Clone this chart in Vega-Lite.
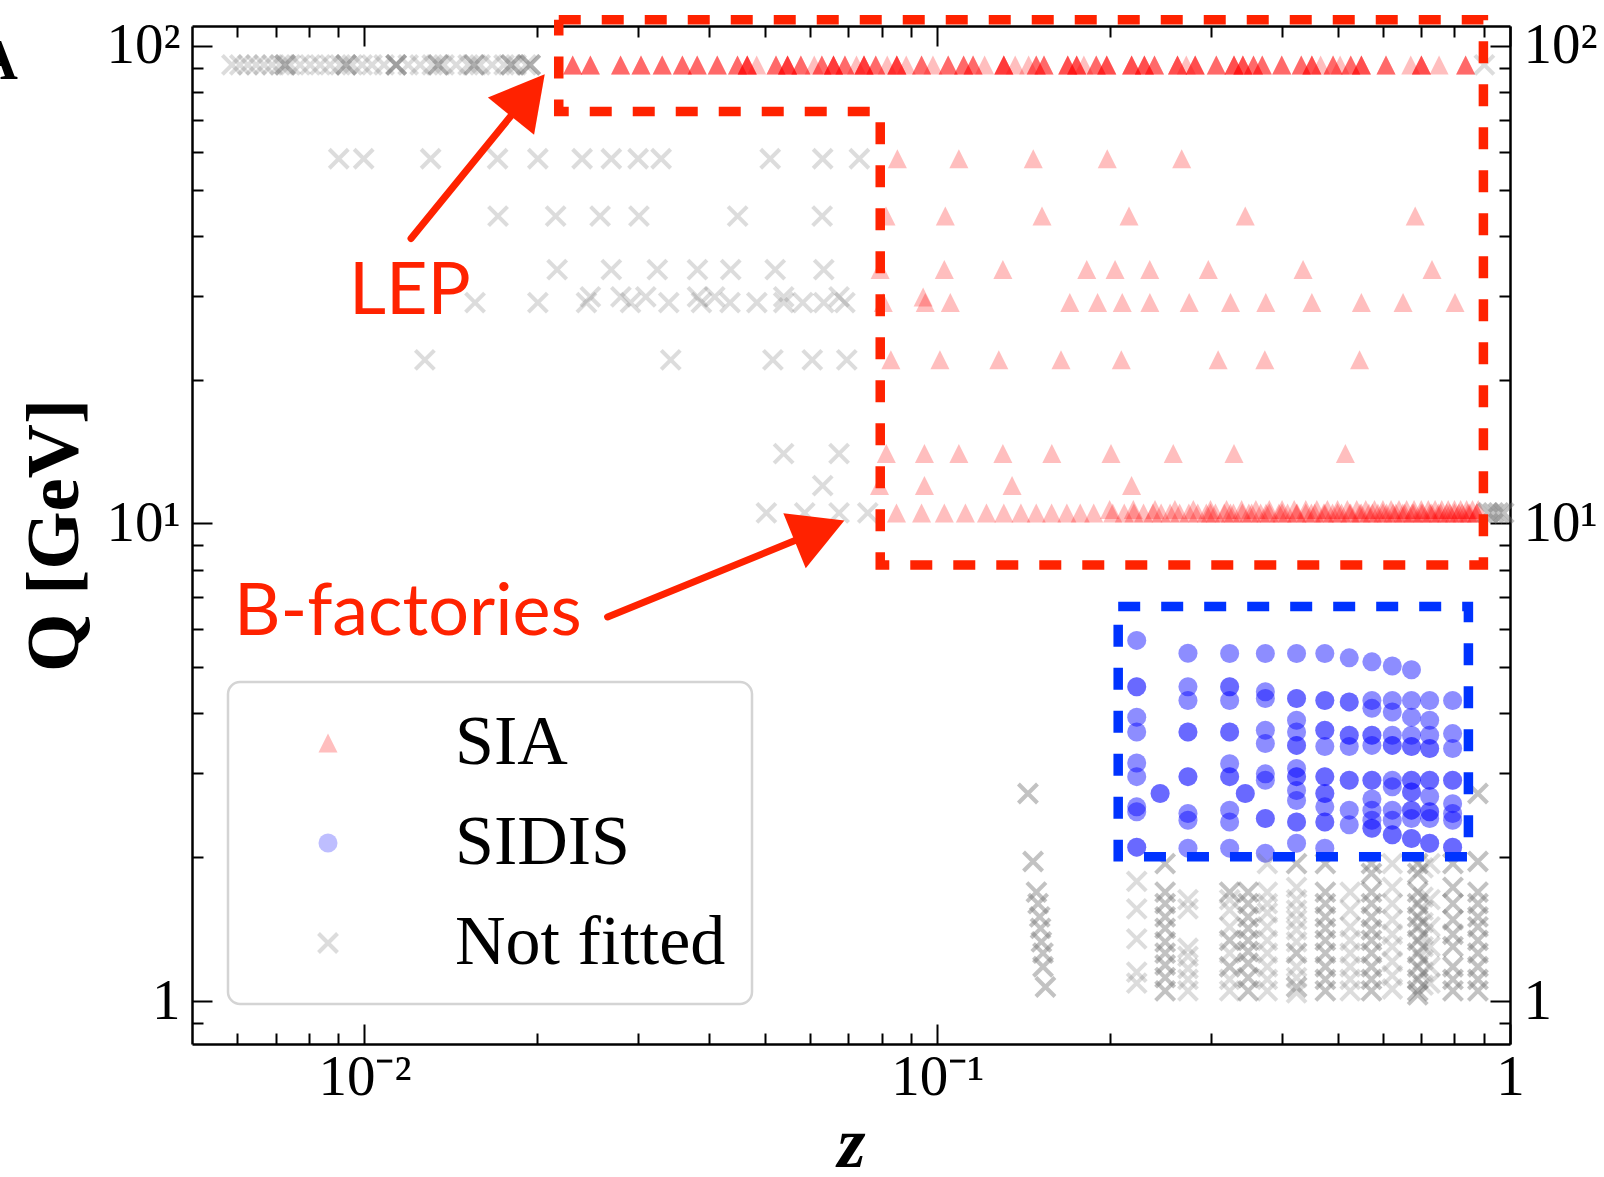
{
"$schema":"https://vega.github.io/schema/vega-lite/v6.json",
"width":1318,"height":1018,
"autosize":{"type":"none"},
"padding":{"left":192,"top":26,"right":94,"bottom":133},
"background":"white",
"config":{"view":{"stroke":null},"axis":{"grid":false,"domainColor":"black","domainWidth":2.5,"tickColor":"black","tickWidth":2,"labelFont":"Liberation Serif","labelFontSize":57,"labelColor":"black","labelFlush":false,"labelOverlap":false,"titleColor":"black"},"legend":{"strokeWidth":2.5}},
"resolve":{"axis":{"x":"independent","y":"independent"}},
"layer":[
{"data":{"values":[
{"set":"SIA","z":0.0231,"Q":91.2},{"set":"SIA","z":0.0231,"Q":91.2},{"set":"SIA","z":0.0231,"Q":91.2},
{"set":"SIA","z":0.0248,"Q":91.2},{"set":"SIA","z":0.0248,"Q":91.2},{"set":"SIA","z":0.0248,"Q":91.2},
{"set":"SIA","z":0.028,"Q":91.2},{"set":"SIA","z":0.028,"Q":91.2},{"set":"SIA","z":0.028,"Q":91.2},
{"set":"SIA","z":0.0304,"Q":91.2},{"set":"SIA","z":0.0304,"Q":91.2},{"set":"SIA","z":0.0304,"Q":91.2},
{"set":"SIA","z":0.0331,"Q":91.2},{"set":"SIA","z":0.0331,"Q":91.2},{"set":"SIA","z":0.0331,"Q":91.2},
{"set":"SIA","z":0.0359,"Q":91.2},{"set":"SIA","z":0.0359,"Q":91.2},{"set":"SIA","z":0.0359,"Q":91.2},
{"set":"SIA","z":0.0381,"Q":91.2},{"set":"SIA","z":0.0381,"Q":91.2},{"set":"SIA","z":0.0381,"Q":91.2},
{"set":"SIA","z":0.0413,"Q":91.2},{"set":"SIA","z":0.0413,"Q":91.2},{"set":"SIA","z":0.0413,"Q":91.2},
{"set":"SIA","z":0.0448,"Q":91.2},{"set":"SIA","z":0.0448,"Q":91.2},{"set":"SIA","z":0.0448,"Q":91.2},
{"set":"SIA","z":0.0466,"Q":91.2},{"set":"SIA","z":0.0466,"Q":91.2},{"set":"SIA","z":0.0466,"Q":91.2},{"set":"SIA","z":0.0466,"Q":91.2},{"set":"SIA","z":0.0466,"Q":91.2},
{"set":"SIA","z":0.0484,"Q":91.2},
{"set":"SIA","z":0.0523,"Q":91.2},{"set":"SIA","z":0.0523,"Q":91.2},{"set":"SIA","z":0.0523,"Q":91.2},
{"set":"SIA","z":0.0548,"Q":91.2},{"set":"SIA","z":0.0548,"Q":91.2},{"set":"SIA","z":0.0548,"Q":91.2},{"set":"SIA","z":0.0548,"Q":91.2},{"set":"SIA","z":0.0548,"Q":91.2},
{"set":"SIA","z":0.0578,"Q":91.2},{"set":"SIA","z":0.0578,"Q":91.2},{"set":"SIA","z":0.0578,"Q":91.2},
{"set":"SIA","z":0.061,"Q":91.2},
{"set":"SIA","z":0.0629,"Q":91.2},{"set":"SIA","z":0.0629,"Q":91.2},{"set":"SIA","z":0.0629,"Q":91.2},
{"set":"SIA","z":0.0659,"Q":91.2},{"set":"SIA","z":0.0659,"Q":91.2},{"set":"SIA","z":0.0659,"Q":91.2},{"set":"SIA","z":0.0659,"Q":91.2},{"set":"SIA","z":0.0659,"Q":91.2},
{"set":"SIA","z":0.069,"Q":91.2},{"set":"SIA","z":0.069,"Q":91.2},{"set":"SIA","z":0.069,"Q":91.2},
{"set":"SIA","z":0.0723,"Q":91.2},
{"set":"SIA","z":0.0745,"Q":91.2},{"set":"SIA","z":0.0745,"Q":91.2},{"set":"SIA","z":0.0745,"Q":91.2},{"set":"SIA","z":0.0745,"Q":91.2},{"set":"SIA","z":0.0745,"Q":91.2},
{"set":"SIA","z":0.0781,"Q":91.2},{"set":"SIA","z":0.0781,"Q":91.2},{"set":"SIA","z":0.0781,"Q":91.2},
{"set":"SIA","z":0.0818,"Q":91.2},
{"set":"SIA","z":0.085,"Q":91.2},{"set":"SIA","z":0.085,"Q":91.2},{"set":"SIA","z":0.085,"Q":91.2},{"set":"SIA","z":0.085,"Q":91.2},{"set":"SIA","z":0.085,"Q":91.2},
{"set":"SIA","z":0.0883,"Q":91.2},
{"set":"SIA","z":0.0939,"Q":91.2},{"set":"SIA","z":0.0939,"Q":91.2},{"set":"SIA","z":0.0939,"Q":91.2},
{"set":"SIA","z":0.0983,"Q":91.2},
{"set":"SIA","z":0.1045,"Q":91.2},{"set":"SIA","z":0.1045,"Q":91.2},{"set":"SIA","z":0.1045,"Q":91.2},
{"set":"SIA","z":0.1112,"Q":91.2},{"set":"SIA","z":0.1112,"Q":91.2},{"set":"SIA","z":0.1112,"Q":91.2},
{"set":"SIA","z":0.1155,"Q":91.2},{"set":"SIA","z":0.1155,"Q":91.2},{"set":"SIA","z":0.1155,"Q":91.2},
{"set":"SIA","z":0.121,"Q":91.2},
{"set":"SIA","z":0.1307,"Q":91.2},{"set":"SIA","z":0.1307,"Q":91.2},{"set":"SIA","z":0.1307,"Q":91.2},{"set":"SIA","z":0.1307,"Q":91.2},{"set":"SIA","z":0.1307,"Q":91.2},
{"set":"SIA","z":0.1368,"Q":91.2},
{"set":"SIA","z":0.1444,"Q":91.2},
{"set":"SIA","z":0.1489,"Q":91.2},{"set":"SIA","z":0.1489,"Q":91.2},{"set":"SIA","z":0.1489,"Q":91.2},
{"set":"SIA","z":0.1536,"Q":91.2},{"set":"SIA","z":0.1536,"Q":91.2},{"set":"SIA","z":0.1536,"Q":91.2},
{"set":"SIA","z":0.169,"Q":91.2},{"set":"SIA","z":0.169,"Q":91.2},{"set":"SIA","z":0.169,"Q":91.2},{"set":"SIA","z":0.169,"Q":91.2},
{"set":"SIA","z":0.1752,"Q":91.2},{"set":"SIA","z":0.1752,"Q":91.2},{"set":"SIA","z":0.1752,"Q":91.2},{"set":"SIA","z":0.1752,"Q":91.2},
{"set":"SIA","z":0.1803,"Q":91.2},
{"set":"SIA","z":0.1895,"Q":91.2},{"set":"SIA","z":0.1895,"Q":91.2},{"set":"SIA","z":0.1895,"Q":91.2},
{"set":"SIA","z":0.1977,"Q":91.2},{"set":"SIA","z":0.1977,"Q":91.2},{"set":"SIA","z":0.1977,"Q":91.2},{"set":"SIA","z":0.1977,"Q":91.2},
{"set":"SIA","z":0.2185,"Q":91.2},{"set":"SIA","z":0.2185,"Q":91.2},{"set":"SIA","z":0.2185,"Q":91.2},{"set":"SIA","z":0.2185,"Q":91.2},
{"set":"SIA","z":0.23,"Q":91.2},{"set":"SIA","z":0.23,"Q":91.2},{"set":"SIA","z":0.23,"Q":91.2},{"set":"SIA","z":0.23,"Q":91.2},
{"set":"SIA","z":0.2395,"Q":91.2},{"set":"SIA","z":0.2395,"Q":91.2},{"set":"SIA","z":0.2395,"Q":91.2},
{"set":"SIA","z":0.2627,"Q":91.2},{"set":"SIA","z":0.2627,"Q":91.2},{"set":"SIA","z":0.2627,"Q":91.2},{"set":"SIA","z":0.2627,"Q":91.2},
{"set":"SIA","z":0.2722,"Q":91.2},
{"set":"SIA","z":0.2821,"Q":91.2},{"set":"SIA","z":0.2821,"Q":91.2},{"set":"SIA","z":0.2821,"Q":91.2},{"set":"SIA","z":0.2821,"Q":91.2},
{"set":"SIA","z":0.3071,"Q":91.2},{"set":"SIA","z":0.3071,"Q":91.2},{"set":"SIA","z":0.3071,"Q":91.2},
{"set":"SIA","z":0.3297,"Q":91.2},{"set":"SIA","z":0.3297,"Q":91.2},{"set":"SIA","z":0.3297,"Q":91.2},{"set":"SIA","z":0.3297,"Q":91.2},
{"set":"SIA","z":0.3417,"Q":91.2},{"set":"SIA","z":0.3417,"Q":91.2},{"set":"SIA","z":0.3417,"Q":91.2},{"set":"SIA","z":0.3417,"Q":91.2},
{"set":"SIA","z":0.3566,"Q":91.2},{"set":"SIA","z":0.3566,"Q":91.2},{"set":"SIA","z":0.3566,"Q":91.2},
{"set":"SIA","z":0.3694,"Q":91.2},{"set":"SIA","z":0.3694,"Q":91.2},{"set":"SIA","z":0.3694,"Q":91.2},
{"set":"SIA","z":0.3995,"Q":91.2},{"set":"SIA","z":0.3995,"Q":91.2},{"set":"SIA","z":0.3995,"Q":91.2},
{"set":"SIA","z":0.4321,"Q":91.2},{"set":"SIA","z":0.4321,"Q":91.2},{"set":"SIA","z":0.4321,"Q":91.2},
{"set":"SIA","z":0.4509,"Q":91.2},{"set":"SIA","z":0.4509,"Q":91.2},{"set":"SIA","z":0.4509,"Q":91.2},{"set":"SIA","z":0.4509,"Q":91.2},
{"set":"SIA","z":0.4671,"Q":91.2},
{"set":"SIA","z":0.491,"Q":91.2},{"set":"SIA","z":0.491,"Q":91.2},{"set":"SIA","z":0.491,"Q":91.2},
{"set":"SIA","z":0.5052,"Q":91.2},
{"set":"SIA","z":0.5272,"Q":91.2},{"set":"SIA","z":0.5272,"Q":91.2},{"set":"SIA","z":0.5272,"Q":91.2},
{"set":"SIA","z":0.5502,"Q":91.2},{"set":"SIA","z":0.5502,"Q":91.2},{"set":"SIA","z":0.5502,"Q":91.2},{"set":"SIA","z":0.5502,"Q":91.2},
{"set":"SIA","z":0.6075,"Q":91.2},{"set":"SIA","z":0.6075,"Q":91.2},{"set":"SIA","z":0.6075,"Q":91.2},
{"set":"SIA","z":0.671,"Q":91.2},
{"set":"SIA","z":0.7002,"Q":91.2},{"set":"SIA","z":0.7002,"Q":91.2},{"set":"SIA","z":0.7002,"Q":91.2},{"set":"SIA","z":0.7002,"Q":91.2},
{"set":"SIA","z":0.7519,"Q":91.2},
{"set":"SIA","z":0.8366,"Q":91.2},{"set":"SIA","z":0.8366,"Q":91.2},{"set":"SIA","z":0.8366,"Q":91.2},
{"set":"SIA","z":0.0852,"Q":58},{"set":"SIA","z":0.1091,"Q":58},{"set":"SIA","z":0.1471,"Q":58},{"set":"SIA","z":0.1981,"Q":58},{"set":"SIA","z":0.2672,"Q":58},
{"set":"SIA","z":0.0814,"Q":44},{"set":"SIA","z":0.1033,"Q":44},{"set":"SIA","z":0.1524,"Q":44},{"set":"SIA","z":0.2162,"Q":44},{"set":"SIA","z":0.345,"Q":44},{"set":"SIA","z":0.6831,"Q":44},
{"set":"SIA","z":0.0795,"Q":34},{"set":"SIA","z":0.1029,"Q":34},{"set":"SIA","z":0.1302,"Q":34},{"set":"SIA","z":0.1824,"Q":34},{"set":"SIA","z":0.2044,"Q":34},{"set":"SIA","z":0.235,"Q":34},{"set":"SIA","z":0.2974,"Q":34},{"set":"SIA","z":0.4352,"Q":34},{"set":"SIA","z":0.7309,"Q":34},
{"set":"SIA","z":0.0945,"Q":29.8},
{"set":"SIA","z":0.0805,"Q":29},{"set":"SIA","z":0.0953,"Q":29},{"set":"SIA","z":0.1054,"Q":29},{"set":"SIA","z":0.1704,"Q":29},{"set":"SIA","z":0.1905,"Q":29},{"set":"SIA","z":0.2104,"Q":29},{"set":"SIA","z":0.2351,"Q":29},{"set":"SIA","z":0.2754,"Q":29},{"set":"SIA","z":0.3251,"Q":29},{"set":"SIA","z":0.3747,"Q":29},{"set":"SIA","z":0.4509,"Q":29},{"set":"SIA","z":0.5502,"Q":29},{"set":"SIA","z":0.6506,"Q":29},{"set":"SIA","z":0.8017,"Q":29},
{"set":"SIA","z":0.083,"Q":22},{"set":"SIA","z":0.1011,"Q":22},{"set":"SIA","z":0.1281,"Q":22},{"set":"SIA","z":0.1645,"Q":22},{"set":"SIA","z":0.2096,"Q":22},{"set":"SIA","z":0.3093,"Q":22},{"set":"SIA","z":0.3732,"Q":22},{"set":"SIA","z":0.5462,"Q":22},
{"set":"SIA","z":0.0815,"Q":14},{"set":"SIA","z":0.095,"Q":14},{"set":"SIA","z":0.1091,"Q":14},{"set":"SIA","z":0.1302,"Q":14},{"set":"SIA","z":0.1585,"Q":14},{"set":"SIA","z":0.2011,"Q":14},{"set":"SIA","z":0.2583,"Q":14},{"set":"SIA","z":0.3297,"Q":14},{"set":"SIA","z":0.5159,"Q":14},
{"set":"SIA","z":0.0793,"Q":12},{"set":"SIA","z":0.095,"Q":12},{"set":"SIA","z":0.1351,"Q":12},{"set":"SIA","z":0.2184,"Q":12},
{"set":"SIA","z":0.0849,"Q":10.52},{"set":"SIA","z":0.0939,"Q":10.52},{"set":"SIA","z":0.1029,"Q":10.52},{"set":"SIA","z":0.112,"Q":10.52},{"set":"SIA","z":0.1219,"Q":10.52},{"set":"SIA","z":0.1307,"Q":10.52},{"set":"SIA","z":0.14,"Q":10.52},{"set":"SIA","z":0.1489,"Q":10.52},{"set":"SIA","z":0.1584,"Q":10.52},{"set":"SIA","z":0.1684,"Q":10.52},{"set":"SIA","z":0.1777,"Q":10.52},{"set":"SIA","z":0.1876,"Q":10.52},{"set":"SIA","z":0.2025,"Q":10.52},{"set":"SIA","z":0.2121,"Q":10.52},{"set":"SIA","z":0.2205,"Q":10.52},{"set":"SIA","z":0.2292,"Q":10.52},
{"set":"SIA","z":0.238,"Q":10.52},{"set":"SIA","z":0.246,"Q":10.52},{"set":"SIA","z":0.255,"Q":10.52},{"set":"SIA","z":0.265,"Q":10.52},{"set":"SIA","z":0.275,"Q":10.52},{"set":"SIA","z":0.285,"Q":10.52},{"set":"SIA","z":0.295,"Q":10.52},{"set":"SIA","z":0.306,"Q":10.52},{"set":"SIA","z":0.317,"Q":10.52},{"set":"SIA","z":0.329,"Q":10.52},{"set":"SIA","z":0.341,"Q":10.52},{"set":"SIA","z":0.354,"Q":10.52},{"set":"SIA","z":0.367,"Q":10.52},{"set":"SIA","z":0.38,"Q":10.52},{"set":"SIA","z":0.395,"Q":10.52},{"set":"SIA","z":0.409,"Q":10.52},{"set":"SIA","z":0.424,"Q":10.52},{"set":"SIA","z":0.44,"Q":10.52},{"set":"SIA","z":0.456,"Q":10.52},{"set":"SIA","z":0.473,"Q":10.52},{"set":"SIA","z":0.49,"Q":10.52},{"set":"SIA","z":0.508,"Q":10.52},{"set":"SIA","z":0.527,"Q":10.52},{"set":"SIA","z":0.547,"Q":10.52},{"set":"SIA","z":0.567,"Q":10.52},{"set":"SIA","z":0.588,"Q":10.52},{"set":"SIA","z":0.609,"Q":10.52},{"set":"SIA","z":0.632,"Q":10.52},{"set":"SIA","z":0.655,"Q":10.52},{"set":"SIA","z":0.679,"Q":10.52},{"set":"SIA","z":0.704,"Q":10.52},{"set":"SIA","z":0.73,"Q":10.52},{"set":"SIA","z":0.757,"Q":10.52},{"set":"SIA","z":0.785,"Q":10.52},{"set":"SIA","z":0.814,"Q":10.52},{"set":"SIA","z":0.844,"Q":10.52},{"set":"SIA","z":0.875,"Q":10.52},
{"set":"SIA","z":0.2,"Q":10.7},{"set":"SIA","z":0.22,"Q":10.7},{"set":"SIA","z":0.24,"Q":10.7},{"set":"SIA","z":0.26,"Q":10.7},{"set":"SIA","z":0.28,"Q":10.7},{"set":"SIA","z":0.3,"Q":10.7},{"set":"SIA","z":0.32,"Q":10.7},{"set":"SIA","z":0.34,"Q":10.7},{"set":"SIA","z":0.36,"Q":10.7},{"set":"SIA","z":0.38,"Q":10.7},{"set":"SIA","z":0.4,"Q":10.7},{"set":"SIA","z":0.42,"Q":10.7},{"set":"SIA","z":0.44,"Q":10.7},{"set":"SIA","z":0.46,"Q":10.7},{"set":"SIA","z":0.48,"Q":10.7},{"set":"SIA","z":0.5,"Q":10.7},{"set":"SIA","z":0.52,"Q":10.7},{"set":"SIA","z":0.54,"Q":10.7},{"set":"SIA","z":0.56,"Q":10.7},{"set":"SIA","z":0.58,"Q":10.7},{"set":"SIA","z":0.6,"Q":10.7},{"set":"SIA","z":0.62,"Q":10.7},{"set":"SIA","z":0.64,"Q":10.7},{"set":"SIA","z":0.66,"Q":10.7},{"set":"SIA","z":0.68,"Q":10.7},{"set":"SIA","z":0.7,"Q":10.7},{"set":"SIA","z":0.72,"Q":10.7},{"set":"SIA","z":0.74,"Q":10.7},{"set":"SIA","z":0.76,"Q":10.7},{"set":"SIA","z":0.78,"Q":10.7},{"set":"SIA","z":0.8,"Q":10.7},{"set":"SIA","z":0.82,"Q":10.7},{"set":"SIA","z":0.84,"Q":10.7},{"set":"SIA","z":0.86,"Q":10.7},{"set":"SIA","z":0.88,"Q":10.7},
{"set":"SIA","z":0.3,"Q":10.52},{"set":"SIA","z":0.325,"Q":10.52},{"set":"SIA","z":0.35,"Q":10.52},{"set":"SIA","z":0.375,"Q":10.52},{"set":"SIA","z":0.4,"Q":10.52},{"set":"SIA","z":0.425,"Q":10.52},{"set":"SIA","z":0.45,"Q":10.52},{"set":"SIA","z":0.475,"Q":10.52},{"set":"SIA","z":0.5,"Q":10.52},{"set":"SIA","z":0.525,"Q":10.52},{"set":"SIA","z":0.55,"Q":10.52},{"set":"SIA","z":0.575,"Q":10.52},{"set":"SIA","z":0.6,"Q":10.52},{"set":"SIA","z":0.625,"Q":10.52},{"set":"SIA","z":0.65,"Q":10.52},{"set":"SIA","z":0.675,"Q":10.52},{"set":"SIA","z":0.7,"Q":10.52},{"set":"SIA","z":0.725,"Q":10.52},{"set":"SIA","z":0.75,"Q":10.52},{"set":"SIA","z":0.775,"Q":10.52},{"set":"SIA","z":0.8,"Q":10.52},{"set":"SIA","z":0.825,"Q":10.52},{"set":"SIA","z":0.85,"Q":10.52},{"set":"SIA","z":0.875,"Q":10.52},
{"set":"SIDIS","z":0.223,"Q":5.69},{"set":"SIDIS","z":0.223,"Q":5.69},
{"set":"SIDIS","z":0.223,"Q":4.55},{"set":"SIDIS","z":0.223,"Q":4.55},{"set":"SIDIS","z":0.223,"Q":4.55},
{"set":"SIDIS","z":0.223,"Q":3.93},{"set":"SIDIS","z":0.223,"Q":3.93},
{"set":"SIDIS","z":0.223,"Q":3.66},{"set":"SIDIS","z":0.223,"Q":3.66},
{"set":"SIDIS","z":0.223,"Q":3.15},{"set":"SIDIS","z":0.223,"Q":3.15},
{"set":"SIDIS","z":0.223,"Q":2.95},{"set":"SIDIS","z":0.223,"Q":2.95},
{"set":"SIDIS","z":0.223,"Q":2.55},{"set":"SIDIS","z":0.223,"Q":2.55},
{"set":"SIDIS","z":0.223,"Q":2.49},{"set":"SIDIS","z":0.223,"Q":2.49},
{"set":"SIDIS","z":0.223,"Q":2.1},{"set":"SIDIS","z":0.223,"Q":2.1},{"set":"SIDIS","z":0.223,"Q":2.1},
{"set":"SIDIS","z":0.245,"Q":2.72},{"set":"SIDIS","z":0.245,"Q":2.72},{"set":"SIDIS","z":0.245,"Q":2.72},
{"set":"SIDIS","z":0.274,"Q":5.35},{"set":"SIDIS","z":0.274,"Q":5.35},
{"set":"SIDIS","z":0.274,"Q":4.55},{"set":"SIDIS","z":0.274,"Q":4.55},
{"set":"SIDIS","z":0.274,"Q":4.26},{"set":"SIDIS","z":0.274,"Q":4.26},
{"set":"SIDIS","z":0.274,"Q":3.66},{"set":"SIDIS","z":0.274,"Q":3.66},{"set":"SIDIS","z":0.274,"Q":3.66},
{"set":"SIDIS","z":0.274,"Q":2.95},{"set":"SIDIS","z":0.274,"Q":2.95},{"set":"SIDIS","z":0.274,"Q":2.95},
{"set":"SIDIS","z":0.274,"Q":2.47},{"set":"SIDIS","z":0.274,"Q":2.47},
{"set":"SIDIS","z":0.274,"Q":2.39},{"set":"SIDIS","z":0.274,"Q":2.39},
{"set":"SIDIS","z":0.274,"Q":2.09},{"set":"SIDIS","z":0.274,"Q":2.09},
{"set":"SIDIS","z":0.324,"Q":5.34},{"set":"SIDIS","z":0.324,"Q":5.34},
{"set":"SIDIS","z":0.324,"Q":4.55},{"set":"SIDIS","z":0.324,"Q":4.55},{"set":"SIDIS","z":0.324,"Q":4.55},
{"set":"SIDIS","z":0.324,"Q":4.26},{"set":"SIDIS","z":0.324,"Q":4.26},
{"set":"SIDIS","z":0.324,"Q":3.66},{"set":"SIDIS","z":0.324,"Q":3.66},{"set":"SIDIS","z":0.324,"Q":3.66},
{"set":"SIDIS","z":0.324,"Q":3.14},{"set":"SIDIS","z":0.324,"Q":3.14},
{"set":"SIDIS","z":0.324,"Q":2.95},{"set":"SIDIS","z":0.324,"Q":2.95},{"set":"SIDIS","z":0.324,"Q":2.95},
{"set":"SIDIS","z":0.324,"Q":2.51},{"set":"SIDIS","z":0.324,"Q":2.51},
{"set":"SIDIS","z":0.324,"Q":2.37},{"set":"SIDIS","z":0.324,"Q":2.37},
{"set":"SIDIS","z":0.324,"Q":2.09},{"set":"SIDIS","z":0.324,"Q":2.09},
{"set":"SIDIS","z":0.345,"Q":2.72},{"set":"SIDIS","z":0.345,"Q":2.72},{"set":"SIDIS","z":0.345,"Q":2.72},
{"set":"SIDIS","z":0.374,"Q":5.34},{"set":"SIDIS","z":0.374,"Q":5.34},
{"set":"SIDIS","z":0.374,"Q":4.44},{"set":"SIDIS","z":0.374,"Q":4.44},
{"set":"SIDIS","z":0.374,"Q":4.3},{"set":"SIDIS","z":0.374,"Q":4.3},
{"set":"SIDIS","z":0.374,"Q":3.69},{"set":"SIDIS","z":0.374,"Q":3.69},
{"set":"SIDIS","z":0.374,"Q":3.46},{"set":"SIDIS","z":0.374,"Q":3.46},
{"set":"SIDIS","z":0.374,"Q":2.99},{"set":"SIDIS","z":0.374,"Q":2.99},
{"set":"SIDIS","z":0.374,"Q":2.9},{"set":"SIDIS","z":0.374,"Q":2.9},
{"set":"SIDIS","z":0.374,"Q":2.41},{"set":"SIDIS","z":0.374,"Q":2.41},{"set":"SIDIS","z":0.374,"Q":2.41},
{"set":"SIDIS","z":0.374,"Q":2.04},{"set":"SIDIS","z":0.374,"Q":2.04},
{"set":"SIDIS","z":0.424,"Q":5.34},{"set":"SIDIS","z":0.424,"Q":5.34},
{"set":"SIDIS","z":0.424,"Q":4.3},{"set":"SIDIS","z":0.424,"Q":4.3},{"set":"SIDIS","z":0.424,"Q":4.3},
{"set":"SIDIS","z":0.424,"Q":3.87},{"set":"SIDIS","z":0.424,"Q":3.87},
{"set":"SIDIS","z":0.424,"Q":3.66},{"set":"SIDIS","z":0.424,"Q":3.66},
{"set":"SIDIS","z":0.424,"Q":3.43},{"set":"SIDIS","z":0.424,"Q":3.43},{"set":"SIDIS","z":0.424,"Q":3.43},
{"set":"SIDIS","z":0.424,"Q":3.07},{"set":"SIDIS","z":0.424,"Q":3.07},
{"set":"SIDIS","z":0.424,"Q":2.95},{"set":"SIDIS","z":0.424,"Q":2.95},{"set":"SIDIS","z":0.424,"Q":2.95},
{"set":"SIDIS","z":0.424,"Q":2.76},{"set":"SIDIS","z":0.424,"Q":2.76},
{"set":"SIDIS","z":0.424,"Q":2.63},{"set":"SIDIS","z":0.424,"Q":2.63},
{"set":"SIDIS","z":0.424,"Q":2.37},{"set":"SIDIS","z":0.424,"Q":2.37},{"set":"SIDIS","z":0.424,"Q":2.37},
{"set":"SIDIS","z":0.424,"Q":2.14},{"set":"SIDIS","z":0.424,"Q":2.14},
{"set":"SIDIS","z":0.475,"Q":5.34},{"set":"SIDIS","z":0.475,"Q":5.34},
{"set":"SIDIS","z":0.475,"Q":4.26},{"set":"SIDIS","z":0.475,"Q":4.26},{"set":"SIDIS","z":0.475,"Q":4.26},
{"set":"SIDIS","z":0.475,"Q":3.69},{"set":"SIDIS","z":0.475,"Q":3.69},{"set":"SIDIS","z":0.475,"Q":3.69},
{"set":"SIDIS","z":0.475,"Q":3.41},{"set":"SIDIS","z":0.475,"Q":3.41},
{"set":"SIDIS","z":0.475,"Q":2.95},{"set":"SIDIS","z":0.475,"Q":2.95},{"set":"SIDIS","z":0.475,"Q":2.95},
{"set":"SIDIS","z":0.475,"Q":2.72},{"set":"SIDIS","z":0.475,"Q":2.72},{"set":"SIDIS","z":0.475,"Q":2.72},
{"set":"SIDIS","z":0.475,"Q":2.55},{"set":"SIDIS","z":0.475,"Q":2.55},
{"set":"SIDIS","z":0.475,"Q":2.37},{"set":"SIDIS","z":0.475,"Q":2.37},{"set":"SIDIS","z":0.475,"Q":2.37},
{"set":"SIDIS","z":0.475,"Q":2.09},{"set":"SIDIS","z":0.475,"Q":2.09},
{"set":"SIDIS","z":0.524,"Q":5.23},{"set":"SIDIS","z":0.524,"Q":5.23},
{"set":"SIDIS","z":0.524,"Q":4.23},{"set":"SIDIS","z":0.524,"Q":4.23},{"set":"SIDIS","z":0.524,"Q":4.23},
{"set":"SIDIS","z":0.524,"Q":3.6},{"set":"SIDIS","z":0.524,"Q":3.6},{"set":"SIDIS","z":0.524,"Q":3.6},
{"set":"SIDIS","z":0.524,"Q":3.41},{"set":"SIDIS","z":0.524,"Q":3.41},
{"set":"SIDIS","z":0.524,"Q":2.9},{"set":"SIDIS","z":0.524,"Q":2.9},{"set":"SIDIS","z":0.524,"Q":2.9},
{"set":"SIDIS","z":0.524,"Q":2.51},{"set":"SIDIS","z":0.524,"Q":2.51},
{"set":"SIDIS","z":0.524,"Q":2.34},{"set":"SIDIS","z":0.524,"Q":2.34},
{"set":"SIDIS","z":0.574,"Q":5.13},{"set":"SIDIS","z":0.574,"Q":5.13},
{"set":"SIDIS","z":0.574,"Q":4.26},{"set":"SIDIS","z":0.574,"Q":4.26},
{"set":"SIDIS","z":0.574,"Q":4.1},{"set":"SIDIS","z":0.574,"Q":4.1},
{"set":"SIDIS","z":0.574,"Q":3.6},{"set":"SIDIS","z":0.574,"Q":3.6},{"set":"SIDIS","z":0.574,"Q":3.6},
{"set":"SIDIS","z":0.574,"Q":3.43},{"set":"SIDIS","z":0.574,"Q":3.43},
{"set":"SIDIS","z":0.574,"Q":2.9},{"set":"SIDIS","z":0.574,"Q":2.9},{"set":"SIDIS","z":0.574,"Q":2.9},
{"set":"SIDIS","z":0.574,"Q":2.65},{"set":"SIDIS","z":0.574,"Q":2.65},
{"set":"SIDIS","z":0.574,"Q":2.51},{"set":"SIDIS","z":0.574,"Q":2.51},
{"set":"SIDIS","z":0.574,"Q":2.39},{"set":"SIDIS","z":0.574,"Q":2.39},
{"set":"SIDIS","z":0.574,"Q":2.3},{"set":"SIDIS","z":0.574,"Q":2.3},{"set":"SIDIS","z":0.574,"Q":2.3},
{"set":"SIDIS","z":0.623,"Q":5.03},{"set":"SIDIS","z":0.623,"Q":5.03},
{"set":"SIDIS","z":0.623,"Q":4.26},{"set":"SIDIS","z":0.623,"Q":4.26},
{"set":"SIDIS","z":0.623,"Q":4.03},{"set":"SIDIS","z":0.623,"Q":4.03},
{"set":"SIDIS","z":0.623,"Q":3.6},{"set":"SIDIS","z":0.623,"Q":3.6},
{"set":"SIDIS","z":0.623,"Q":3.43},{"set":"SIDIS","z":0.623,"Q":3.43},{"set":"SIDIS","z":0.623,"Q":3.43},
{"set":"SIDIS","z":0.623,"Q":2.9},{"set":"SIDIS","z":0.623,"Q":2.9},
{"set":"SIDIS","z":0.623,"Q":2.81},{"set":"SIDIS","z":0.623,"Q":2.81},
{"set":"SIDIS","z":0.623,"Q":2.51},{"set":"SIDIS","z":0.623,"Q":2.51},
{"set":"SIDIS","z":0.623,"Q":2.39},{"set":"SIDIS","z":0.623,"Q":2.39},
{"set":"SIDIS","z":0.623,"Q":2.23},{"set":"SIDIS","z":0.623,"Q":2.23},{"set":"SIDIS","z":0.623,"Q":2.23},
{"set":"SIDIS","z":0.673,"Q":4.94},{"set":"SIDIS","z":0.673,"Q":4.94},
{"set":"SIDIS","z":0.673,"Q":4.26},{"set":"SIDIS","z":0.673,"Q":4.26},
{"set":"SIDIS","z":0.673,"Q":3.93},{"set":"SIDIS","z":0.673,"Q":3.93},
{"set":"SIDIS","z":0.673,"Q":3.6},{"set":"SIDIS","z":0.673,"Q":3.6},
{"set":"SIDIS","z":0.673,"Q":3.41},{"set":"SIDIS","z":0.673,"Q":3.41},{"set":"SIDIS","z":0.673,"Q":3.41},
{"set":"SIDIS","z":0.673,"Q":2.9},{"set":"SIDIS","z":0.673,"Q":2.9},{"set":"SIDIS","z":0.673,"Q":2.9},
{"set":"SIDIS","z":0.673,"Q":2.74},{"set":"SIDIS","z":0.673,"Q":2.74},{"set":"SIDIS","z":0.673,"Q":2.74},
{"set":"SIDIS","z":0.673,"Q":2.51},{"set":"SIDIS","z":0.673,"Q":2.51},{"set":"SIDIS","z":0.673,"Q":2.51},
{"set":"SIDIS","z":0.673,"Q":2.41},{"set":"SIDIS","z":0.673,"Q":2.41},
{"set":"SIDIS","z":0.673,"Q":2.19},{"set":"SIDIS","z":0.673,"Q":2.19},{"set":"SIDIS","z":0.673,"Q":2.19},
{"set":"SIDIS","z":0.724,"Q":4.26},{"set":"SIDIS","z":0.724,"Q":4.26},
{"set":"SIDIS","z":0.724,"Q":3.87},{"set":"SIDIS","z":0.724,"Q":3.87},
{"set":"SIDIS","z":0.724,"Q":3.6},{"set":"SIDIS","z":0.724,"Q":3.6},
{"set":"SIDIS","z":0.724,"Q":3.38},{"set":"SIDIS","z":0.724,"Q":3.38},{"set":"SIDIS","z":0.724,"Q":3.38},
{"set":"SIDIS","z":0.724,"Q":2.9},{"set":"SIDIS","z":0.724,"Q":2.9},{"set":"SIDIS","z":0.724,"Q":2.9},
{"set":"SIDIS","z":0.724,"Q":2.68},{"set":"SIDIS","z":0.724,"Q":2.68},
{"set":"SIDIS","z":0.724,"Q":2.49},{"set":"SIDIS","z":0.724,"Q":2.49},{"set":"SIDIS","z":0.724,"Q":2.49},
{"set":"SIDIS","z":0.724,"Q":2.41},{"set":"SIDIS","z":0.724,"Q":2.41},
{"set":"SIDIS","z":0.724,"Q":2.14},{"set":"SIDIS","z":0.724,"Q":2.14},{"set":"SIDIS","z":0.724,"Q":2.14},
{"set":"SIDIS","z":0.794,"Q":4.26},{"set":"SIDIS","z":0.794,"Q":4.26},
{"set":"SIDIS","z":0.794,"Q":3.63},{"set":"SIDIS","z":0.794,"Q":3.63},
{"set":"SIDIS","z":0.794,"Q":3.38},{"set":"SIDIS","z":0.794,"Q":3.38},
{"set":"SIDIS","z":0.794,"Q":2.9},{"set":"SIDIS","z":0.794,"Q":2.9},{"set":"SIDIS","z":0.794,"Q":2.9},
{"set":"SIDIS","z":0.794,"Q":2.59},{"set":"SIDIS","z":0.794,"Q":2.59},
{"set":"SIDIS","z":0.794,"Q":2.47},{"set":"SIDIS","z":0.794,"Q":2.47},
{"set":"SIDIS","z":0.794,"Q":2.39},{"set":"SIDIS","z":0.794,"Q":2.39},
{"set":"SIDIS","z":0.794,"Q":2.1},{"set":"SIDIS","z":0.794,"Q":2.1},{"set":"SIDIS","z":0.794,"Q":2.1},
{"set":"Not fitted","z":0.00587,"Q":91.2},{"set":"Not fitted","z":0.00606,"Q":91.2},{"set":"Not fitted","z":0.00626,"Q":91.2},{"set":"Not fitted","z":0.00647,"Q":91.2},{"set":"Not fitted","z":0.00668,"Q":91.2},{"set":"Not fitted","z":0.0069,"Q":91.2},{"set":"Not fitted","z":0.00712,"Q":91.2},{"set":"Not fitted","z":0.00742,"Q":91.2},{"set":"Not fitted","z":0.00772,"Q":91.2},{"set":"Not fitted","z":0.00804,"Q":91.2},{"set":"Not fitted","z":0.00837,"Q":91.2},{"set":"Not fitted","z":0.00871,"Q":91.2},{"set":"Not fitted","z":0.00907,"Q":91.2},{"set":"Not fitted","z":0.00952,"Q":91.2},{"set":"Not fitted","z":0.00991,"Q":91.2},{"set":"Not fitted","z":0.01031,"Q":91.2},{"set":"Not fitted","z":0.01082,"Q":91.2},{"set":"Not fitted","z":0.01136,"Q":91.2},{"set":"Not fitted","z":0.01192,"Q":91.2},{"set":"Not fitted","z":0.01251,"Q":91.2},{"set":"Not fitted","z":0.01313,"Q":91.2},{"set":"Not fitted","z":0.01377,"Q":91.2},{"set":"Not fitted","z":0.01446,"Q":91.2},{"set":"Not fitted","z":0.01517,"Q":91.2},{"set":"Not fitted","z":0.01592,"Q":91.2},{"set":"Not fitted","z":0.01671,"Q":91.2},{"set":"Not fitted","z":0.01753,"Q":91.2},{"set":"Not fitted","z":0.0184,"Q":91.2},{"set":"Not fitted","z":0.01916,"Q":91.2},
{"set":"Not fitted","z":0.00727,"Q":91.2},{"set":"Not fitted","z":0.00727,"Q":91.2},{"set":"Not fitted","z":0.00727,"Q":91.2},
{"set":"Not fitted","z":0.00929,"Q":91.2},{"set":"Not fitted","z":0.00929,"Q":91.2},{"set":"Not fitted","z":0.00929,"Q":91.2},
{"set":"Not fitted","z":0.01136,"Q":91.2},{"set":"Not fitted","z":0.01136,"Q":91.2},{"set":"Not fitted","z":0.01136,"Q":91.2},
{"set":"Not fitted","z":0.01345,"Q":91.2},{"set":"Not fitted","z":0.01345,"Q":91.2},{"set":"Not fitted","z":0.01345,"Q":91.2},
{"set":"Not fitted","z":0.01554,"Q":91.2},{"set":"Not fitted","z":0.01554,"Q":91.2},{"set":"Not fitted","z":0.01554,"Q":91.2},
{"set":"Not fitted","z":0.01803,"Q":91.2},{"set":"Not fitted","z":0.01803,"Q":91.2},{"set":"Not fitted","z":0.01803,"Q":91.2},
{"set":"Not fitted","z":0.01947,"Q":91.2},{"set":"Not fitted","z":0.01947,"Q":91.2},{"set":"Not fitted","z":0.01947,"Q":91.2},
{"set":"Not fitted","z":0.902,"Q":91.2},
{"set":"Not fitted","z":0.00902,"Q":58},{"set":"Not fitted","z":0.00997,"Q":58},{"set":"Not fitted","z":0.01305,"Q":58},{"set":"Not fitted","z":0.01708,"Q":58},{"set":"Not fitted","z":0.02008,"Q":58},{"set":"Not fitted","z":0.02399,"Q":58},{"set":"Not fitted","z":0.02698,"Q":58},{"set":"Not fitted","z":0.03005,"Q":58},{"set":"Not fitted","z":0.03296,"Q":58},{"set":"Not fitted","z":0.0511,"Q":58},{"set":"Not fitted","z":0.0631,"Q":58},{"set":"Not fitted","z":0.07313,"Q":58},
{"set":"Not fitted","z":0.01711,"Q":44},{"set":"Not fitted","z":0.02157,"Q":44},{"set":"Not fitted","z":0.02579,"Q":44},{"set":"Not fitted","z":0.03015,"Q":44},{"set":"Not fitted","z":0.04483,"Q":44},{"set":"Not fitted","z":0.06297,"Q":44},
{"set":"Not fitted","z":0.0217,"Q":34},{"set":"Not fitted","z":0.02698,"Q":34},{"set":"Not fitted","z":0.03246,"Q":34},{"set":"Not fitted","z":0.03814,"Q":34},{"set":"Not fitted","z":0.0436,"Q":34},{"set":"Not fitted","z":0.05214,"Q":34},{"set":"Not fitted","z":0.06338,"Q":34},
{"set":"Not fitted","z":0.0248,"Q":29.8},{"set":"Not fitted","z":0.02804,"Q":29.8},{"set":"Not fitted","z":0.03099,"Q":29.8},{"set":"Not fitted","z":0.03814,"Q":29.8},{"set":"Not fitted","z":0.04089,"Q":29.8},{"set":"Not fitted","z":0.05395,"Q":29.8},{"set":"Not fitted","z":0.0674,"Q":29.8},
{"set":"Not fitted","z":0.0156,"Q":29},{"set":"Not fitted","z":0.02008,"Q":29},{"set":"Not fitted","z":0.02441,"Q":29},{"set":"Not fitted","z":0.02914,"Q":29},{"set":"Not fitted","z":0.03399,"Q":29},{"set":"Not fitted","z":0.03875,"Q":29},{"set":"Not fitted","z":0.04348,"Q":29},{"set":"Not fitted","z":0.04843,"Q":29},{"set":"Not fitted","z":0.05395,"Q":29},{"set":"Not fitted","z":0.05826,"Q":29},{"set":"Not fitted","z":0.06338,"Q":29},{"set":"Not fitted","z":0.06899,"Q":29},
{"set":"Not fitted","z":0.01275,"Q":22},{"set":"Not fitted","z":0.03426,"Q":22},{"set":"Not fitted","z":0.05166,"Q":22},{"set":"Not fitted","z":0.06052,"Q":22},{"set":"Not fitted","z":0.06952,"Q":22},
{"set":"Not fitted","z":0.05393,"Q":14},{"set":"Not fitted","z":0.0674,"Q":14},
{"set":"Not fitted","z":0.0631,"Q":12},
{"set":"Not fitted","z":0.05032,"Q":10.52},{"set":"Not fitted","z":0.0587,"Q":10.52},{"set":"Not fitted","z":0.0674,"Q":10.52},{"set":"Not fitted","z":0.07564,"Q":10.52},
{"set":"Not fitted","z":0.915,"Q":10.52},{"set":"Not fitted","z":0.915,"Q":10.52},{"set":"Not fitted","z":0.935,"Q":10.52},{"set":"Not fitted","z":0.935,"Q":10.52},{"set":"Not fitted","z":0.955,"Q":10.52},{"set":"Not fitted","z":0.955,"Q":10.52},{"set":"Not fitted","z":0.975,"Q":10.52},{"set":"Not fitted","z":0.975,"Q":10.52},
{"set":"Not fitted","z":0.144,"Q":2.72},{"set":"Not fitted","z":0.144,"Q":2.72},{"set":"Not fitted","z":0.147,"Q":1.96},{"set":"Not fitted","z":0.147,"Q":1.96},{"set":"Not fitted","z":0.149,"Q":1.69},{"set":"Not fitted","z":0.149,"Q":1.69},{"set":"Not fitted","z":0.15,"Q":1.6},{"set":"Not fitted","z":0.15,"Q":1.6},{"set":"Not fitted","z":0.151,"Q":1.5},{"set":"Not fitted","z":0.151,"Q":1.5},{"set":"Not fitted","z":0.1515,"Q":1.42},{"set":"Not fitted","z":0.1515,"Q":1.42},{"set":"Not fitted","z":0.152,"Q":1.33},{"set":"Not fitted","z":0.152,"Q":1.33},{"set":"Not fitted","z":0.153,"Q":1.26},{"set":"Not fitted","z":0.153,"Q":1.26},{"set":"Not fitted","z":0.153,"Q":1.18},{"set":"Not fitted","z":0.153,"Q":1.18},{"set":"Not fitted","z":0.1545,"Q":1.07},{"set":"Not fitted","z":0.1545,"Q":1.07},
{"set":"Not fitted","z":0.223,"Q":1.78},{"set":"Not fitted","z":0.223,"Q":1.56},{"set":"Not fitted","z":0.223,"Q":1.35},{"set":"Not fitted","z":0.223,"Q":1.15},{"set":"Not fitted","z":0.223,"Q":1.09},
{"set":"Not fitted","z":0.25,"Q":1.94},{"set":"Not fitted","z":0.25,"Q":1.69},{"set":"Not fitted","z":0.25,"Q":1.6},{"set":"Not fitted","z":0.25,"Q":1.5},{"set":"Not fitted","z":0.25,"Q":1.42},{"set":"Not fitted","z":0.25,"Q":1.33},{"set":"Not fitted","z":0.25,"Q":1.26},{"set":"Not fitted","z":0.25,"Q":1.19},{"set":"Not fitted","z":0.25,"Q":1.12},{"set":"Not fitted","z":0.25,"Q":1.05},
{"set":"Not fitted","z":0.25,"Q":1.94},{"set":"Not fitted","z":0.25,"Q":1.69},{"set":"Not fitted","z":0.25,"Q":1.6},{"set":"Not fitted","z":0.25,"Q":1.5},{"set":"Not fitted","z":0.25,"Q":1.42},{"set":"Not fitted","z":0.25,"Q":1.33},{"set":"Not fitted","z":0.25,"Q":1.26},{"set":"Not fitted","z":0.25,"Q":1.19},{"set":"Not fitted","z":0.25,"Q":1.12},{"set":"Not fitted","z":0.25,"Q":1.05},
{"set":"Not fitted","z":0.274,"Q":1.63},{"set":"Not fitted","z":0.274,"Q":1.56},{"set":"Not fitted","z":0.274,"Q":1.29},{"set":"Not fitted","z":0.274,"Q":1.24},{"set":"Not fitted","z":0.274,"Q":1.17},{"set":"Not fitted","z":0.274,"Q":1.11},{"set":"Not fitted","z":0.274,"Q":1.05},
{"set":"Not fitted","z":0.324,"Q":1.69},{"set":"Not fitted","z":0.324,"Q":1.63},{"set":"Not fitted","z":0.324,"Q":1.55},{"set":"Not fitted","z":0.324,"Q":1.43},{"set":"Not fitted","z":0.324,"Q":1.34},{"set":"Not fitted","z":0.324,"Q":1.26},{"set":"Not fitted","z":0.324,"Q":1.18},{"set":"Not fitted","z":0.324,"Q":1.11},{"set":"Not fitted","z":0.324,"Q":1.05},{"set":"Not fitted","z":0.324,"Q":1.69},{"set":"Not fitted","z":0.324,"Q":1.34},{"set":"Not fitted","z":0.324,"Q":1.18},
{"set":"Not fitted","z":0.349,"Q":1.69},{"set":"Not fitted","z":0.349,"Q":1.6},{"set":"Not fitted","z":0.349,"Q":1.5},{"set":"Not fitted","z":0.349,"Q":1.42},{"set":"Not fitted","z":0.349,"Q":1.34},{"set":"Not fitted","z":0.349,"Q":1.27},{"set":"Not fitted","z":0.349,"Q":1.2},{"set":"Not fitted","z":0.349,"Q":1.12},{"set":"Not fitted","z":0.349,"Q":1.05},
{"set":"Not fitted","z":0.349,"Q":1.69},{"set":"Not fitted","z":0.349,"Q":1.6},{"set":"Not fitted","z":0.349,"Q":1.5},{"set":"Not fitted","z":0.349,"Q":1.42},{"set":"Not fitted","z":0.349,"Q":1.34},{"set":"Not fitted","z":0.349,"Q":1.27},{"set":"Not fitted","z":0.349,"Q":1.2},{"set":"Not fitted","z":0.349,"Q":1.12},{"set":"Not fitted","z":0.349,"Q":1.05},
{"set":"Not fitted","z":0.377,"Q":1.94},{"set":"Not fitted","z":0.377,"Q":1.69},{"set":"Not fitted","z":0.377,"Q":1.6},{"set":"Not fitted","z":0.377,"Q":1.53},{"set":"Not fitted","z":0.377,"Q":1.43},{"set":"Not fitted","z":0.377,"Q":1.34},{"set":"Not fitted","z":0.377,"Q":1.26},{"set":"Not fitted","z":0.377,"Q":1.18},{"set":"Not fitted","z":0.377,"Q":1.11},{"set":"Not fitted","z":0.377,"Q":1.05},
{"set":"Not fitted","z":0.424,"Q":1.94},{"set":"Not fitted","z":0.424,"Q":1.73},{"set":"Not fitted","z":0.424,"Q":1.63},{"set":"Not fitted","z":0.424,"Q":1.55},{"set":"Not fitted","z":0.424,"Q":1.48},{"set":"Not fitted","z":0.424,"Q":1.41},{"set":"Not fitted","z":0.424,"Q":1.33},{"set":"Not fitted","z":0.424,"Q":1.26},{"set":"Not fitted","z":0.424,"Q":1.18},{"set":"Not fitted","z":0.424,"Q":1.12},{"set":"Not fitted","z":0.424,"Q":1.07},{"set":"Not fitted","z":0.424,"Q":1.04},{"set":"Not fitted","z":0.424,"Q":1.94},{"set":"Not fitted","z":0.424,"Q":1.26},{"set":"Not fitted","z":0.424,"Q":1.07},
{"set":"Not fitted","z":0.476,"Q":1.94},{"set":"Not fitted","z":0.476,"Q":1.69},{"set":"Not fitted","z":0.476,"Q":1.6},{"set":"Not fitted","z":0.476,"Q":1.5},{"set":"Not fitted","z":0.476,"Q":1.42},{"set":"Not fitted","z":0.476,"Q":1.34},{"set":"Not fitted","z":0.476,"Q":1.26},{"set":"Not fitted","z":0.476,"Q":1.18},{"set":"Not fitted","z":0.476,"Q":1.11},{"set":"Not fitted","z":0.476,"Q":1.05},
{"set":"Not fitted","z":0.476,"Q":1.94},{"set":"Not fitted","z":0.476,"Q":1.69},{"set":"Not fitted","z":0.476,"Q":1.6},{"set":"Not fitted","z":0.476,"Q":1.5},{"set":"Not fitted","z":0.476,"Q":1.42},{"set":"Not fitted","z":0.476,"Q":1.34},{"set":"Not fitted","z":0.476,"Q":1.26},{"set":"Not fitted","z":0.476,"Q":1.18},{"set":"Not fitted","z":0.476,"Q":1.11},{"set":"Not fitted","z":0.476,"Q":1.05},
{"set":"Not fitted","z":0.526,"Q":1.69},{"set":"Not fitted","z":0.526,"Q":1.55},{"set":"Not fitted","z":0.526,"Q":1.43},{"set":"Not fitted","z":0.526,"Q":1.34},{"set":"Not fitted","z":0.526,"Q":1.26},{"set":"Not fitted","z":0.526,"Q":1.18},{"set":"Not fitted","z":0.526,"Q":1.11},{"set":"Not fitted","z":0.526,"Q":1.05},
{"set":"Not fitted","z":0.573,"Q":1.94},{"set":"Not fitted","z":0.573,"Q":1.85},{"set":"Not fitted","z":0.573,"Q":1.69},{"set":"Not fitted","z":0.573,"Q":1.6},{"set":"Not fitted","z":0.573,"Q":1.5},{"set":"Not fitted","z":0.573,"Q":1.41},{"set":"Not fitted","z":0.573,"Q":1.34},{"set":"Not fitted","z":0.573,"Q":1.26},{"set":"Not fitted","z":0.573,"Q":1.18},{"set":"Not fitted","z":0.573,"Q":1.11},{"set":"Not fitted","z":0.573,"Q":1.05},
{"set":"Not fitted","z":0.573,"Q":1.94},{"set":"Not fitted","z":0.573,"Q":1.85},{"set":"Not fitted","z":0.573,"Q":1.69},{"set":"Not fitted","z":0.573,"Q":1.6},{"set":"Not fitted","z":0.573,"Q":1.5},{"set":"Not fitted","z":0.573,"Q":1.41},{"set":"Not fitted","z":0.573,"Q":1.34},{"set":"Not fitted","z":0.573,"Q":1.26},{"set":"Not fitted","z":0.573,"Q":1.18},{"set":"Not fitted","z":0.573,"Q":1.11},{"set":"Not fitted","z":0.573,"Q":1.05},
{"set":"Not fitted","z":0.623,"Q":1.94},{"set":"Not fitted","z":0.623,"Q":1.73},{"set":"Not fitted","z":0.623,"Q":1.6},{"set":"Not fitted","z":0.623,"Q":1.48},{"set":"Not fitted","z":0.623,"Q":1.38},{"set":"Not fitted","z":0.623,"Q":1.3},{"set":"Not fitted","z":0.623,"Q":1.21},{"set":"Not fitted","z":0.623,"Q":1.13},{"set":"Not fitted","z":0.623,"Q":1.06},
{"set":"Not fitted","z":0.69,"Q":1.94},{"set":"Not fitted","z":0.69,"Q":1.85},{"set":"Not fitted","z":0.69,"Q":1.69},{"set":"Not fitted","z":0.69,"Q":1.6},{"set":"Not fitted","z":0.69,"Q":1.5},{"set":"Not fitted","z":0.69,"Q":1.43},{"set":"Not fitted","z":0.69,"Q":1.34},{"set":"Not fitted","z":0.69,"Q":1.26},{"set":"Not fitted","z":0.69,"Q":1.18},{"set":"Not fitted","z":0.69,"Q":1.11},{"set":"Not fitted","z":0.69,"Q":1.05},{"set":"Not fitted","z":0.69,"Q":1.03},
{"set":"Not fitted","z":0.69,"Q":1.94},{"set":"Not fitted","z":0.69,"Q":1.85},{"set":"Not fitted","z":0.69,"Q":1.69},{"set":"Not fitted","z":0.69,"Q":1.6},{"set":"Not fitted","z":0.69,"Q":1.5},{"set":"Not fitted","z":0.69,"Q":1.43},{"set":"Not fitted","z":0.69,"Q":1.34},{"set":"Not fitted","z":0.69,"Q":1.26},{"set":"Not fitted","z":0.69,"Q":1.18},{"set":"Not fitted","z":0.69,"Q":1.11},{"set":"Not fitted","z":0.69,"Q":1.05},{"set":"Not fitted","z":0.69,"Q":1.03},
{"set":"Not fitted","z":0.705,"Q":1.9},{"set":"Not fitted","z":0.705,"Q":1.65},{"set":"Not fitted","z":0.705,"Q":1.55},{"set":"Not fitted","z":0.705,"Q":1.46},{"set":"Not fitted","z":0.705,"Q":1.38},{"set":"Not fitted","z":0.705,"Q":1.3},{"set":"Not fitted","z":0.705,"Q":1.22},{"set":"Not fitted","z":0.705,"Q":1.15},{"set":"Not fitted","z":0.705,"Q":1.08},
{"set":"Not fitted","z":0.725,"Q":1.94},{"set":"Not fitted","z":0.725,"Q":1.63},{"set":"Not fitted","z":0.725,"Q":1.43},{"set":"Not fitted","z":0.725,"Q":1.3},{"set":"Not fitted","z":0.725,"Q":1.18},{"set":"Not fitted","z":0.725,"Q":1.09},
{"set":"Not fitted","z":0.795,"Q":1.94},{"set":"Not fitted","z":0.795,"Q":1.73},{"set":"Not fitted","z":0.795,"Q":1.6},{"set":"Not fitted","z":0.795,"Q":1.48},{"set":"Not fitted","z":0.795,"Q":1.38},{"set":"Not fitted","z":0.795,"Q":1.3},{"set":"Not fitted","z":0.795,"Q":1.18},{"set":"Not fitted","z":0.795,"Q":1.11},{"set":"Not fitted","z":0.795,"Q":1.05},
{"set":"Not fitted","z":0.795,"Q":1.94},{"set":"Not fitted","z":0.795,"Q":1.73},{"set":"Not fitted","z":0.795,"Q":1.6},{"set":"Not fitted","z":0.795,"Q":1.48},{"set":"Not fitted","z":0.795,"Q":1.38},{"set":"Not fitted","z":0.795,"Q":1.3},{"set":"Not fitted","z":0.795,"Q":1.18},{"set":"Not fitted","z":0.795,"Q":1.11},{"set":"Not fitted","z":0.795,"Q":1.05},
{"set":"Not fitted","z":0.879,"Q":2.72},{"set":"Not fitted","z":0.879,"Q":1.96},{"set":"Not fitted","z":0.879,"Q":1.69},{"set":"Not fitted","z":0.879,"Q":1.6},{"set":"Not fitted","z":0.879,"Q":1.5},{"set":"Not fitted","z":0.879,"Q":1.43},{"set":"Not fitted","z":0.879,"Q":1.34},{"set":"Not fitted","z":0.879,"Q":1.26},{"set":"Not fitted","z":0.879,"Q":1.18},{"set":"Not fitted","z":0.879,"Q":1.11},{"set":"Not fitted","z":0.879,"Q":1.05},
{"set":"Not fitted","z":0.879,"Q":2.72},{"set":"Not fitted","z":0.879,"Q":1.96},{"set":"Not fitted","z":0.879,"Q":1.69},{"set":"Not fitted","z":0.879,"Q":1.6},{"set":"Not fitted","z":0.879,"Q":1.5},{"set":"Not fitted","z":0.879,"Q":1.43},{"set":"Not fitted","z":0.879,"Q":1.34},{"set":"Not fitted","z":0.879,"Q":1.26},{"set":"Not fitted","z":0.879,"Q":1.18},{"set":"Not fitted","z":0.879,"Q":1.11},{"set":"Not fitted","z":0.879,"Q":1.05}
]},
"mark":{"type":"point","filled":true,"strokeWidth":4,"size":361,"opacity":0.25},
"encoding":{
"x":{"field":"z","type":"quantitative","scale":{"type":"log","domain":[0.005,1],"nice":false},
 "axis":{"orient":"bottom","values":[0.006,0.007,0.008,0.009,0.01,0.02,0.03,0.04,0.05,0.06,0.07,0.08,0.09,0.1,0.2,0.3,0.4,0.5,0.6,0.7,0.8,0.9,1],
  "labelExpr":"datum.value == 0.01 ? '10⁻²' : datum.value == 0.1 ? '10⁻¹' : datum.value == 1 ? '1' : ''",
  "tickSize":{"condition":{"test":"datum.value == 0.01 || datum.value == 0.1 || datum.value == 1","value":-20},"value":-11},
  "labelPadding":25,"title":"z","titleFont":"Liberation Serif","titleFontSize":72,"titleFontWeight":"bold","titleFontStyle":"italic","titleX":659,"titleY":122,"titleBaseline":"alphabetic","titleAlign":"center"}},
"y":{"field":"Q","type":"quantitative","scale":{"type":"log","domain":[0.813,110],"nice":false},
 "axis":{"orient":"left","values":[0.9,1,2,3,4,5,6,7,8,9,10,20,30,40,50,60,70,80,90,100],
  "labelExpr":"datum.value == 100 ? '10²' : datum.value == 10 ? '10¹' : datum.value == 1 ? '1' : ''",
  "tickSize":{"condition":{"test":"datum.value == 1 || datum.value == 10 || datum.value == 100","value":-20},"value":-11},
  "labelPadding":32,"title":"Q [GeV]","titleFont":"Liberation Serif","titleFontSize":75,"titleFontWeight":"bold","titleX":-115,"titleY":509,"titleAngle":-90,"titleBaseline":"alphabetic","titleAlign":"center"}},
"shape":{"field":"set","type":"nominal","scale":{"domain":["SIA","SIDIS","Not fitted"],"range":["M0,-1L-1,1L1,1Z","circle","M-1,-1L1,1M-1,1L1,-1"]},
 "legend":{"orient":"none","legendX":36,"legendY":656,"title":null,"padding":26,"rowPadding":30,"symbolOffset":39,"labelOffset":92,"labelFont":"Liberation Serif","labelFontSize":70,"labelColor":"black","labelLimit":0,"symbolSize":361,"symbolStrokeWidth":4,"symbolOpacity":0.25,"strokeColor":"#d4d4d4","fillColor":"white","cornerRadius":12}},
"fill":{"field":"set","type":"nominal","scale":{"domain":["SIA","SIDIS","Not fitted"],"range":["#ff0000","#0000ff","transparent"]}},
"stroke":{"field":"set","type":"nominal","scale":{"domain":["SIA","SIDIS","Not fitted"],"range":["transparent","transparent","#777777"]}}
}},
{"data":{"values":[
{"box":"LEP","i":0,"z":0.02184,"Q":113.3},{"box":"LEP","i":1,"z":0.8986,"Q":113.3},{"box":"LEP","i":2,"z":0.8986,"Q":8.18},{"box":"LEP","i":3,"z":0.07953,"Q":8.18},{"box":"LEP","i":4,"z":0.07953,"Q":72.8},{"box":"LEP","i":5,"z":0.02184,"Q":72.8},{"box":"LEP","i":6,"z":0.02184,"Q":113.3},
{"box":"SIDIS","i":0,"z":0.207,"Q":6.7},{"box":"SIDIS","i":1,"z":0.846,"Q":6.7},{"box":"SIDIS","i":2,"z":0.846,"Q":2.004},{"box":"SIDIS","i":3,"z":0.207,"Q":2.004},{"box":"SIDIS","i":4,"z":0.207,"Q":6.7}
]},
"mark":{"type":"line","strokeWidth":9.5,"strokeDash":[22,21],"clip":false},
"encoding":{
"x":{"field":"z","type":"quantitative","scale":{"type":"log","domain":[0.005,1],"nice":false},
 "axis":{"orient":"top","values":[0.006,0.007,0.008,0.009,0.01,0.02,0.03,0.04,0.05,0.06,0.07,0.08,0.09,0.1,0.2,0.3,0.4,0.5,0.6,0.7,0.8,0.9,1],"labels":false,"title":null,
  "tickSize":{"condition":{"test":"datum.value == 0.01 || datum.value == 0.1 || datum.value == 1","value":-20},"value":-11}}},
"y":{"field":"Q","type":"quantitative","scale":{"type":"log","domain":[0.813,110],"nice":false},
 "axis":{"orient":"right","values":[0.9,1,2,3,4,5,6,7,8,9,10,20,30,40,50,60,70,80,90,100],"title":null,
  "labelExpr":"datum.value == 100 ? '10²' : datum.value == 10 ? '10¹' : datum.value == 1 ? '1' : ''",
  "tickSize":{"condition":{"test":"datum.value == 1 || datum.value == 10 || datum.value == 100","value":-20},"value":-11},
  "labelPadding":33}},
"detail":{"field":"box","type":"nominal"},
"order":{"field":"i","type":"quantitative"},
"color":{"field":"box","type":"nominal","scale":{"domain":["LEP","SIDIS"],"range":["#ff2200","#0033ff"]},"legend":null}
}},
{"data":{"values":[
{"arrow":"LEP","i":0,"z":0.01206,"Q":39.5},{"arrow":"LEP","i":1,"z":0.01929,"Q":78.8},
{"arrow":"B-factories","i":0,"z":0.02658,"Q":6.37},{"arrow":"B-factories","i":1,"z":0.06229,"Q":9.66}
]},
"mark":{"type":"line","color":"#ff2200","strokeWidth":7,"strokeCap":"round"},
"encoding":{
"x":{"field":"z","type":"quantitative","scale":{"type":"log","domain":[0.005,1],"nice":false},"axis":null},
"y":{"field":"Q","type":"quantitative","scale":{"type":"log","domain":[0.813,110],"nice":false},"axis":null},
"detail":{"field":"arrow","type":"nominal"},
"order":{"field":"i","type":"quantitative"}
}},
{"data":{"values":[{"arrow":"LEP","z":0.01929,"Q":78.8}]},
"mark":{"type":"point","shape":"M0,-1L-1.1,1L1.1,1Z","filled":true,"color":"#ff2200","opacity":1,"size":2900,"angle":38.8},
"encoding":{
"x":{"field":"z","type":"quantitative","scale":{"type":"log","domain":[0.005,1],"nice":false},"axis":null},
"y":{"field":"Q","type":"quantitative","scale":{"type":"log","domain":[0.813,110],"nice":false},"axis":null}
}},
{"data":{"values":[{"arrow":"B-factories","z":0.06229,"Q":9.66}]},
"mark":{"type":"point","shape":"M0,-1L-1.1,1L1.1,1Z","filled":true,"color":"#ff2200","opacity":1,"size":2900,"angle":67.8},
"encoding":{
"x":{"field":"z","type":"quantitative","scale":{"type":"log","domain":[0.005,1],"nice":false},"axis":null},
"y":{"field":"Q","type":"quantitative","scale":{"type":"log","domain":[0.813,110],"nice":false},"axis":null}
}},
{"data":{"values":[{"label":"LEP","z":0.009401,"Q":27.5},{"label":"B-factories","z":0.00592,"Q":5.833}]},
"mark":{"type":"text","font":"Lato","fontSize":72,"color":"#ff2200","align":"left","baseline":"alphabetic"},
"encoding":{
"x":{"field":"z","type":"quantitative","scale":{"type":"log","domain":[0.005,1],"nice":false},"axis":null},
"y":{"field":"Q","type":"quantitative","scale":{"type":"log","domain":[0.813,110],"nice":false},"axis":null},
"text":{"field":"label"}
}},
{"data":{"values":[{"label":"A","z":0.002484,"Q":85.3}]},
"mark":{"type":"text","font":"Liberation Serif","fontWeight":"bold","fontSize":58,"color":"black","align":"right","baseline":"alphabetic"},
"encoding":{
"x":{"field":"z","type":"quantitative","scale":{"type":"log","domain":[0.005,1],"nice":false},"axis":null},
"y":{"field":"Q","type":"quantitative","scale":{"type":"log","domain":[0.813,110],"nice":false},"axis":null},
"text":{"field":"label"}
}}
]
}
